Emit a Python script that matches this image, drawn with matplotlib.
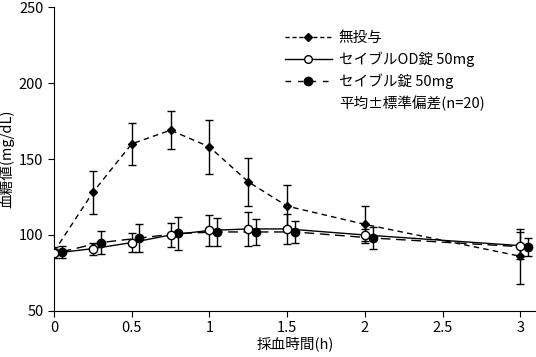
import matplotlib
matplotlib.use('Agg')
import matplotlib.pyplot as plt
from matplotlib.lines import Line2D
import numpy as np

plt.rcParams['font.family'] = ['Noto Sans CJK JP', 'DejaVu Sans']

# データ
times = [0, 0.25, 0.5, 0.75, 1.0, 1.25, 1.5, 2.0, 3.0]
labels = ['無投与', 'セイブルOD錠 50mg', 'セイブル錠 50mg']
none_mean = [89, 128, 160, 169, 158, 135, 119, 107, 86]
none_sd = [3, 14, 14, 12.5, 18, 16, 14, 12, 18]
od_mean = [88, 91, 95, 100, 103, 104, 104, 100, 93]
od_sd = [3, 4, 6, 8, 10, 11, 10, 4, 9]
tab_mean = [89, 95, 98, 101, 102, 102, 102, 98, 92]
tab_sd = [4, 7.5, 9, 11, 9, 8.5, 7, 7.5, 6]
tab_shift = 0.05
note = '平均±標準偏差(n=20)'

fig = plt.figure(figsize=(5.36, 3.57), dpi=100)
ax = fig.add_axes([0.1007, 0.129, 0.899, 0.851])

ax.errorbar(times, none_mean, yerr=none_sd, color='black', lw=1,
            ls=(0, (4, 3)), marker='D', ms=4, mfc='black',
            capsize=3, elinewidth=1, capthick=1, zorder=3)
ax.errorbar(times, od_mean, yerr=od_sd, color='black', lw=1,
            ls='-', marker='o', ms=6, mfc='white', mec='black',
            capsize=3, elinewidth=1, capthick=1, zorder=4)
ax.errorbar(np.array(times) + tab_shift, tab_mean, yerr=tab_sd, color='black', lw=1,
            ls=(0, (7, 4)), marker='o', ms=6, mfc='black',
            capsize=3, elinewidth=1, capthick=1, zorder=2)

ax.set_xlim(0, 3.1)
ax.set_ylim(50, 250)
ax.set_xticks([0, 0.5, 1, 1.5, 2, 2.5, 3])
ax.set_xticklabels(['0', '0.5', '1', '1.5', '2', '2.5', '3'])
ax.set_yticks([50, 100, 150, 200, 250])
ax.spines['top'].set_visible(False)
ax.spines['right'].set_visible(False)
ax.tick_params(direction='out', length=4, labelsize=10.5)
ax.set_xlabel('採血時間(h)', fontsize=10.5, labelpad=1)
ax.set_ylabel('血糖値(mg/dL)', fontsize=10.5, labelpad=3)

handles = [
    Line2D([], [], color='black', lw=1, ls=(0, (3, 2)), marker='D', ms=4),
    Line2D([], [], color='black', lw=1, ls='-', marker='o', ms=5.5, mfc='white'),
    Line2D([], [], color='black', lw=1, ls=(0, (4, 5)), marker='o', ms=6),
    Line2D([], [], color='none'),
]
ax.legend(handles, labels + [note], loc='upper left', bbox_to_anchor=(0.452, 0.965),
          frameon=False, fontsize=10.5, handlelength=3.2, labelspacing=0.45,
          handletextpad=0.5)

fig.savefig('out.png', dpi=100)
